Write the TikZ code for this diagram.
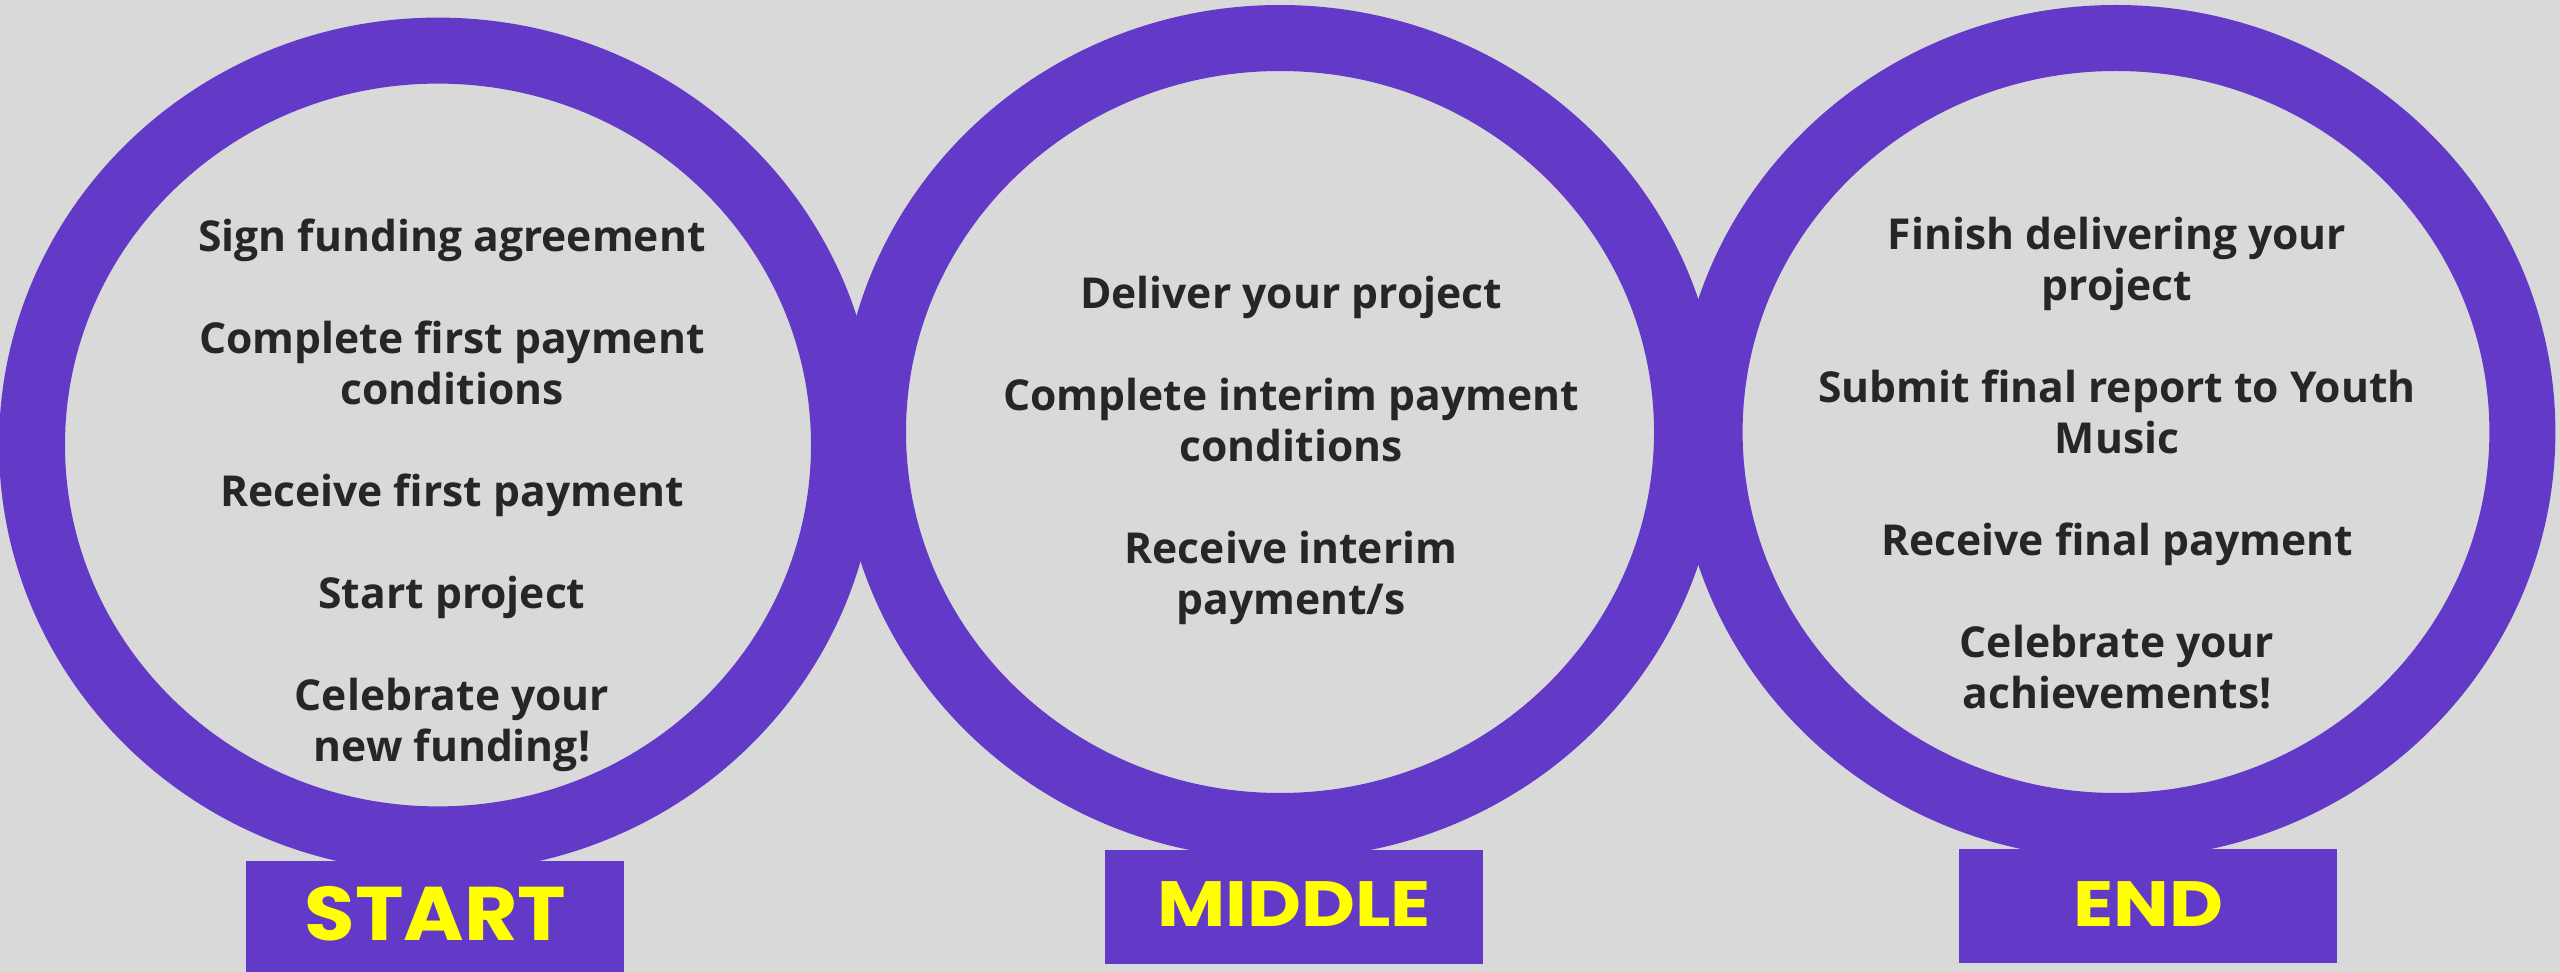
\documentclass[tikz,border=0pt]{standalone}
\usepackage{fontspec}
\setmainfont{Open Sans}
\newfontfamily\labfont[FakeStretch=1.16]{Poppins}
\newfontfamily\labfontS[FakeStretch=1.08]{Poppins}
\usetikzlibrary{shapes.geometric}
\definecolor{ringpurple}{HTML}{633AC8}
\definecolor{bg}{HTML}{D9D9D9}
\definecolor{txt}{HTML}{262626}
\definecolor{lab}{HTML}{FFFF00}
\begin{document}
\begin{tikzpicture}[x=0.25pt,y=-0.25pt,
  ring/.style={ellipse, draw=ringpurple, line width=16.5pt, inner sep=0pt, outer sep=0pt},
  tag/.style={fill=ringpurple, inner sep=0pt, minimum width=94.5pt, minimum height=28.5pt},
  body/.style={text=txt, align=center, inner sep=0pt, anchor=north, font=\bfseries\fontsize{10.65pt}{12.75pt}\selectfont},
  tagtext/.style={text=lab, inner sep=0pt, anchor=base, font=\labfont\bfseries\fontsize{16pt}{16pt}\selectfont}]
\fill[bg] (0,0) rectangle (2560,972);
\useasboundingbox (0,0) rectangle (2560,972);
% rings
\node[ring, minimum width=203pt, minimum height=197.2pt] (e1) at (438,445) {};
\node[ring, minimum width=203.5pt, minimum height=197pt] (e2) at (1280,432) {};
\node[ring, minimum width=203.2pt, minimum height=197pt] (e3) at (2116,432) {};
% tags
\node[tag] (b1) at (435,918) {};
\node[tag] (b2) at (1294,907) {};
\node[tag] (b3) at (2148,905.5) {};
\node[tagtext, font=\labfontS\bfseries\fontsize{19pt}{19pt}\selectfont] (l1) at (435.5,940) {START};
\node[tagtext] (l2) at (1294,926) {MIDDLE};
\node[tagtext] (l3) at (2148,926) {END};
% texts
\node[body] (t1) at (452,218) {Sign funding agreement\\[12.75pt]
  Complete first payment\\conditions\\[12.75pt]
  Receive first payment\\[12.75pt]
  Start project\\[12.75pt]
  Celebrate your\\new funding!};
\node[body] (t2) at (1291,275) {Deliver your project\\[12.75pt]
  Complete interim payment\\conditions\\[12.75pt]
  Receive interim\\payment/s};
\node[body] (t3) at (2117,216) {Finish delivering your\\project\\[12.75pt]
  Submit final report to Youth\\Music\\[12.75pt]
  Receive final payment\\[12.75pt]
  Celebrate your\\achievements!};
\end{tikzpicture}
\end{document}
